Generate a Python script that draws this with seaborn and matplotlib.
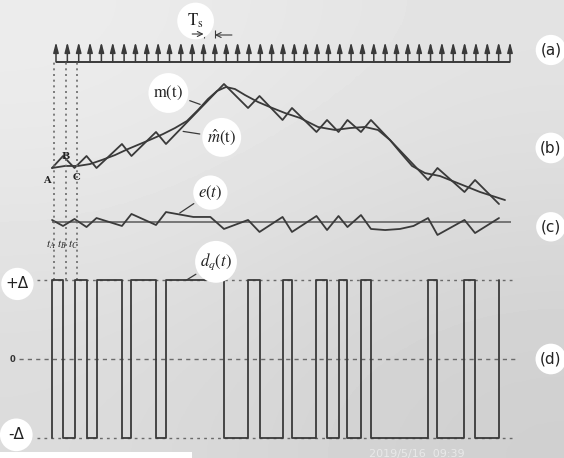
import numpy as np
import matplotlib
matplotlib.use('Agg')
import matplotlib.pyplot as plt
import seaborn as sns

# ---- data (time in units of Ts, amplitudes in units of delta) ----
sample_times = list(range(41))

# switching instants of d_q(t) and the level it takes after each switch
dq_edges = [-0.35, 0.62, 1.63, 2.69, 3.57, 5.81, 6.65, 8.81, 9.69, 14.8,
            16.92, 17.93, 19.96, 20.79, 22.95, 23.88, 24.89, 25.68, 26.87, 27.75,
            32.78, 33.61, 35.99, 36.92, 39.03]
dq_levels = [1, -1, 1, -1, 1, -1, 1, -1, 1, -1,
             1, -1, 1, -1, 1, -1, 1, -1, 1, -1,
             1, -1, 1, -1, 1]

# staircase estimate m^(t) at the same instants
mhat_vals = [0, 1, 0, 1, 0, 2, 1, 3, 2, 7,
             5, 6, 4, 5, 3, 4, 3, 4, 3, 4,
             -1, 0, -2, -1, -3]

# message m(t)
m_times = [-0.35, 0.79, 1.94, 3.0, 4.05, 5.2, 6.34, 7.4, 8.46, 9.43,
           10.48, 11.54, 12.51, 13.39, 14.19, 14.98, 15.77, 16.65, 17.8, 18.85,
           20.18, 21.5, 23.08, 24.58, 25.9, 27.22, 28.37, 29.43, 30.31, 31.37,
           32.51, 33.83, 35.59, 37.36, 39.56]
m_vals = [0, 0.17, 0.17, 0.33, 0.67, 1.08, 1.58, 2.0, 2.42, 2.83,
          3.33, 3.92, 4.83, 5.75, 6.42, 6.75, 6.58, 6.08, 5.5, 5.08,
          4.58, 4.17, 3.42, 3.17, 3.33, 3.42, 3.17, 2.33, 1.33, 0.17,
          -0.42, -0.67, -1.33, -2.0, -2.67]

# error e(t)
e_times = [-0.35, 0.62, 1.63, 2.69, 3.57, 5.81, 6.65, 8.81, 9.69, 12.1,
           13.6, 14.8, 16.92, 17.93, 19.96, 20.79, 22.95, 23.88, 24.89, 25.68,
           26.87, 27.75, 29.0, 30.3, 31.5, 32.78, 33.61, 35.99, 36.92, 39.03]
e_vals = [0.17, -0.33, 0.25, -0.42, 0.33, -0.33, 0.67, -0.25, 0.83, 0.42,
          0.42, -0.58, 0.17, -0.83, 0.42, -0.83, 0.5, -0.67, 0.5, -0.42,
          0.58, -0.58, -0.67, -0.58, -0.33, 0.33, -1.08, 0.17, -0.92, 0.33]

mark_times = [-0.2, 0.85, 1.85]
mark_names = ['A', 'B', 'C']

# ---- figure ----
sns.set_theme(style='white')
plt.rcParams['font.family'] = ['DejaVu Sans']
plt.rcParams['mathtext.fontset'] = 'stix'

W, H = 564, 458
T0_PX, TS_PX = 56, 11.35
INK = '#3a3a3a'
DOT = '#6a6a6a'
blob = dict(boxstyle='circle,pad=0.3', fc='white', ec='none')
big_blob = dict(boxstyle='circle,pad=0.55', fc='white', ec='none')

fig = plt.figure(figsize=(W / 100, H / 100), dpi=100)

# photo-like paper background
ax_bg = fig.add_axes([0, 0, 1, 1], label='bg', zorder=0)
ax_bg.imshow([[0.93, 0.89], [0.86, 0.81]], cmap='gray', vmin=0, vmax=1,
             extent=[0, 1, 0, 1], aspect='auto', interpolation='bicubic')
ax_bg.add_patch(plt.Rectangle((0, 0), 0.34, 0.013, color='white', lw=0))
ax_bg.set_xlim(0, 1)
ax_bg.set_ylim(0, 1)
ax_bg.axis('off')
fig.text(0.655, 0.002, '2019/5/16  09:39', color='#e9e9e9', fontsize=8)


def panel(name):
    return fig.add_axes([0, 0, 1, 1], label=name, zorder=1, facecolor='none')


def frame(ax, base_px, unit_px):
    ax.set_xlim(-T0_PX / TS_PX, (W - T0_PX) / TS_PX)
    ax.set_ylim((base_px - H) / unit_px, base_px / unit_px)
    ax.axis('off')


# (a) sampling pulses
ax_a = panel('a')
ax_a.hlines(0, sample_times[0], sample_times[-1], color=INK, lw=1.4)
for t in sample_times:
    ax_a.annotate('', xy=(t, 1), xytext=(t, 0),
                  arrowprops=dict(arrowstyle='-|>,head_length=0.5,head_width=0.13',
                                  color=INK, lw=1.1, shrinkA=0, shrinkB=0))
ax_a.text(12.3, 2.05, r'$\mathrm{T_s}$', fontsize=12, ha='center', va='center',
          color='#222', bbox=big_blob)
ax_a.vlines([13, 14], 1.2, 1.6, color=INK, lw=0.8)
ax_a.annotate('', xy=(13, 1.4), xytext=(12.0, 1.4),
              arrowprops=dict(arrowstyle='->,head_length=0.3,head_width=0.15',
                              color=INK, lw=0.8, shrinkA=0, shrinkB=0))
ax_a.annotate('', xy=(14, 1.35), xytext=(15.5, 1.35),
              arrowprops=dict(arrowstyle='->,head_length=0.3,head_width=0.15',
                              color=INK, lw=0.8, shrinkA=0, shrinkB=0))
ax_a.text(43.6, 0.6, '(a)', fontsize=11, ha='center', va='center', color='#222', bbox=blob)
frame(ax_a, 62, 20)

# (b) m(t) and m^(t)
ax_b = panel('b')
sns.lineplot(x=m_times, y=m_vals, ax=ax_b, color=INK, lw=1.3, estimator=None, sort=False)
sns.lineplot(x=dq_edges, y=mhat_vals, ax=ax_b, color=INK, lw=1.3, estimator=None, sort=False)
for t, name, dy in zip(mark_times, mark_names, [-1.0, 0.95, -0.8]):
    ax_b.text(t - (0.6 if name == 'A' else 0.0), dy, name, fontsize=7, fontweight='bold',
              family='DejaVu Serif', ha='center', va='center', color='#222')
ax_b.annotate(r'$\mathrm{m(t)}$', xy=(12.7, 5.3), xytext=(9.9, 6.25),
              fontsize=12, ha='center', va='center', color='#222', bbox=blob,
              arrowprops=dict(arrowstyle='-', color=INK, lw=0.9, shrinkA=2, shrinkB=0))
ax_b.annotate(r'$\hat{m}(\mathrm{t})$', xy=(11.2, 3.05), xytext=(14.6, 2.55),
              fontsize=12, ha='center', va='center', color='#222', bbox=blob,
              arrowprops=dict(arrowstyle='-', color=INK, lw=0.9, shrinkA=2, shrinkB=0))
ax_b.text(43.6, 1.67, '(b)', fontsize=11, ha='center', va='center', color='#222', bbox=blob)
frame(ax_b, 168, 12)

# (c) e(t)
ax_c = panel('c')
ax_c.hlines(0, -0.35, 40.1, color='#5a5a5a', lw=1.1)
sns.lineplot(x=e_times, y=e_vals, ax=ax_c, color=INK, lw=1.3, estimator=None, sort=False)
ax_c.annotate(r'$e(t)$', xy=(10.9, 0.75), xytext=(13.6, 2.45),
              fontsize=12, ha='center', va='center', color='#222', bbox=blob,
              arrowprops=dict(arrowstyle='-', color=INK, lw=0.9, shrinkA=2, shrinkB=0))
ax_c.text(43.6, -0.4, '(c)', fontsize=11, ha='center', va='center', color='#222', bbox=blob)
frame(ax_c, 222, 12)

# (d) d_q(t)
ax_d = panel('d')
ax_d.hlines([1, -1], -1.7, 40.5, colors=DOT, lw=1.0, linestyles=(0, (2, 3)))
ax_d.hlines(0, -3.3, 40.5, colors=DOT, lw=1.0, linestyles=(0, (3, 3)))
ax_d.vlines(mark_times, 1.0, 3.76, colors=DOT, lw=1.2, linestyles=(0, (1.2, 2.2)))
sns.lineplot(x=[dq_edges[0]] + dq_edges, y=[-1] + dq_levels, ax=ax_d,
             color=INK, lw=1.3, estimator=None, sort=False, drawstyle='steps-post')
for t, name in zip(mark_times, mark_names):
    ax_d.text(t - 0.3, 1.44, '$t_' + name + '$', fontsize=8, ha='center', va='center',
              color='#222')
ax_d.annotate(r'$d_q(t)$', xy=(11.5, 1.0), xytext=(14.1, 1.23),
              fontsize=12, ha='center', va='center', color='#222', bbox=blob,
              arrowprops=dict(arrowstyle='-', color=INK, lw=0.9, shrinkA=2, shrinkB=0))
ax_d.text(-3.4, 0.95, '+Δ', fontsize=11, ha='center', va='center', color='#222', bbox=blob)
ax_d.text(-3.8, 0.0, '0', fontsize=6, fontweight='bold', ha='center', va='center', color='#333')
ax_d.text(-3.5, -0.96, '-Δ', fontsize=11, ha='center', va='center', color='#222', bbox=big_blob)
ax_d.text(43.6, 0.0, '(d)', fontsize=11, ha='center', va='center', color='#222', bbox=blob)
frame(ax_d, 359, 79)

fig.savefig('out.png', dpi=100)
